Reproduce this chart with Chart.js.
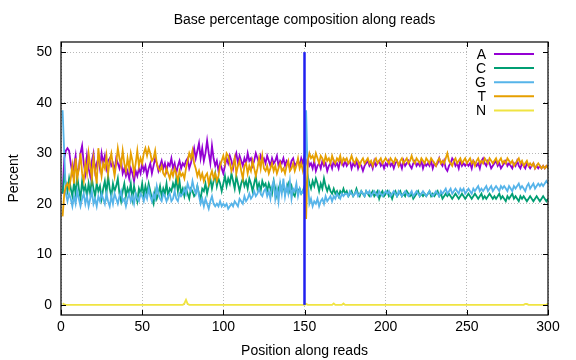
<!DOCTYPE html>
<html>
<head>
<meta charset="utf-8">
<script src="https://cdn.jsdelivr.net/npm/chart.js@4.4.0/dist/chart.umd.min.js"></script>
<style>
html, body { margin: 0; padding: 0; background: #fff; }
canvas { display: block; }
</style>
</head>
<body>
<canvas id="myChart" width="576" height="360"></canvas>
<script>
// ---------- data ----------
const seriesNames = ['A', 'C', 'G', 'T', 'N'];
const seriesColors = ['#9400d3', '#009e73', '#56b4e9', '#e69f00', '#f0e442'];
const positions = Array.from({length: 300}, (_, i) => i + 1);

const baseA = [
  22, 29, 30.5, 31, 30.5, 28, 26, 27.5, 29.5, 25.5, 27, 30, 31.5, 28, 26, 29.5, 27, 25.5, 28.5, 30, 26.5, 28, 29, 27, 30,
  28, 29.5, 27, 28.5, 29, 27.5, 28, 26.5, 29, 28, 27, 28.5, 26, 27, 25.5, 26.5, 25, 27, 26, 24.5, 26.5, 25.5, 27, 26, 28,
  26.5, 27.5, 25.5, 27, 28, 26, 27.5, 29, 28, 26.5, 27.5, 28.5, 27, 28, 26.5, 28, 27.5, 29, 27, 28, 26, 27.5, 28.5, 27, 28,
  27.5, 28.5, 29, 27, 28, 29.5, 31, 29, 30.5, 32, 29, 31, 28.5, 30, 32.5, 30, 28, 31.5, 29, 27.5, 28.5, 26.5, 28, 27, 26,
  27.5, 29, 28, 29.5, 28.5, 27, 29, 30, 28, 29.5, 28.5, 27.5, 29, 28, 30, 28.5, 29, 27.5, 28.5, 30, 29, 28, 29.5, 28.5, 29,
  28, 29.5, 28.5, 27.5, 29, 28, 28.5, 29.5, 27.5, 28.5, 28, 29, 27.5, 28.5, 28, 27, 28.5, 29, 27.5, 28, 28.5, 27.5, 29, 28, 29.5,
  28, 29, 27.5, 28, 27, 28.5, 26.5, 27.5, 28, 27, 28.5, 27.5, 28, 26.5, 27.5, 28, 27, 28.5, 27.5, 28, 27, 28.5, 28, 27.5, 28.5,
  27.5, 28, 28.5, 27, 28, 27.5, 28.5, 27, 28, 27.5, 26.5, 27.5, 28, 28.5, 27.5, 28, 27, 28.5, 27.5, 28, 28.5, 27.5, 28, 27, 28,
  27.5, 28.5, 27.5, 28, 27, 28, 28.5, 27.5, 28, 27, 28.5, 27.5, 28, 28.5, 27.5, 27, 28, 28.5, 27.5, 28, 27.5, 28.5, 27, 28, 27.5,
  28, 27.5, 28.5, 27, 28, 27.5, 28, 29, 28, 27.5, 28.5, 27, 26.5, 27.5, 28, 29, 28.5, 27.5, 28, 27, 28.5, 27.5, 28, 27.5, 28,
  27.5, 28, 27, 28.5, 28, 27.5, 28, 27, 28.5, 29, 28, 27.5, 28.5, 28, 27, 27.5, 28, 28.5, 27.5, 28, 27, 27.5, 28, 28.5, 27.5,
  28, 27.5, 27, 28, 27.5, 28.5, 27.5, 27, 28, 27.5, 27, 28, 27.5, 27, 27.5, 28, 27, 27.5, 27, 27.5, 27, 27.5, 27, 27.5, 27.3
];

const baseC = [
  22, 25.5, 24, 22.5, 25, 23, 21.5, 24, 22, 25.5, 23, 21, 24.5, 22.5, 23.5, 21.5, 24, 22, 25, 23, 21.5, 24, 22.5, 23.5, 21,
  23, 24.5, 22, 25.5, 23, 21.5, 24, 22.5, 23.5, 25, 22, 20.5, 22.5, 24, 21.5, 23, 22, 24, 21, 23.5, 22, 20.5, 23, 22, 24,
  21.5, 23.5, 22, 24, 22.5, 21, 20, 22.5, 21, 22, 23.5, 21.5, 23, 22, 24, 21.5, 23, 22.5, 24, 23, 25, 22.5, 24.5, 22, 23,
  21.5, 23, 22, 21, 23, 22.5, 21.5, 22, 23.5, 22, 21, 23, 22.5, 24, 22, 23.5, 25, 23, 24.5, 26, 23.5, 25, 24, 22.5, 24,
  25.5, 23.5, 25, 24, 26, 24.5, 23, 25.5, 24, 22.5, 24, 25, 23.5, 24.5, 23, 25, 24, 22.5, 24, 25.5, 23, 24, 22.5, 24.5, 23.5,
  24, 22.5, 24, 23, 22, 24.5, 23, 21.5, 23, 24, 22.5, 23.5, 22, 23, 24, 22.5, 23.5, 22, 21.5, 23, 22.5, 23, 22, 22.5, 23.5,
  23, 25.5, 24, 23, 24.5, 23.5, 25, 24, 22.5, 24, 23, 25, 23.5, 22.5, 23.5, 22.5, 22, 23, 22, 22.5, 21.5, 22.5, 22, 23, 22,
  22.5, 21.5, 22, 22.5, 21.5, 22, 23, 22, 21.5, 22.5, 22, 21.5, 22.5, 22, 21.5, 22, 22.5, 21.5, 22, 22.5, 21, 22, 22.5, 21.5, 22,
  22.5, 21.5, 22, 21, 22, 22.5, 21.5, 22, 22.5, 21.5, 22, 21.5, 22.5, 22, 21.5, 22, 21, 21.5, 22, 22.5, 21.5, 22, 21.5, 22, 21.5,
  22, 22.5, 21.5, 22, 21.5, 22, 22.5, 21.5, 22, 21, 21.5, 22, 21.5, 22, 21.5, 21, 21.5, 22, 21.5, 21, 21.5, 22, 21.5, 21, 21.5,
  22, 21.5, 21, 21.5, 22, 21.5, 21, 21.5, 22, 21, 21.5, 21, 21.5, 22, 21.5, 21, 21.5, 21, 21.5, 22, 21, 21.5, 21, 20.5, 21.5,
  21, 21.5, 22, 21, 21.5, 21, 20.5, 21.5, 21, 21.5, 21, 20.5, 21, 21.5, 21, 20.5, 21, 21.5, 21, 20.5, 21, 21.5, 21, 20.5, 21
];

const baseG = [
  38.5, 30, 22, 20.5, 22, 21, 19.5, 21.5, 20, 22.5, 21, 19.5, 21, 22, 20, 21.5, 19.5, 21, 22.5, 20, 21, 19.5, 21.5, 20.5, 22,
  21, 20, 22, 20.5, 19.5, 21.5, 20, 22, 21, 20, 21.5, 22.5, 20.5, 21, 19.5, 21, 22, 20.5, 21.5, 20, 22, 21, 20.5, 22, 21.5,
  20.5, 22, 21, 23, 21.5, 20.5, 22, 21, 23.5, 22, 21, 20.5, 22, 21.5, 20.5, 21.5, 22, 20.5, 21, 22.5, 21, 20.5, 22, 21.5, 22,
  23, 22, 24, 23, 22.5, 24.5, 23, 22, 23.5, 21.5, 20, 21, 19.5, 21, 20, 19, 20.5, 21.5, 20, 19.5, 20, 19.5, 20.5, 19.5, 20,
  19.5, 20, 19, 19.5, 20, 19.5, 20.5, 20, 19.5, 21, 20.5, 20, 21.5, 20.5, 21, 22, 21, 21.5, 22.5, 21.5, 22, 23, 22, 21.5, 22.5,
  23, 21.5, 22.5, 21, 23.5, 24.5, 21, 23, 20.5, 24, 22, 25, 21.5, 23.5, 22, 24.5, 21, 23, 22.5, 24, 21.5, 23, 22, 22.5, 22,
  38.5, 25, 20, 21, 19.5, 20.5, 20, 21, 19.5, 20.5, 21, 20, 21.5, 20.5, 21, 21.5, 20.5, 21.5, 21, 22, 21.5, 21, 22, 21.5, 22,
  22, 21.5, 22.5, 22, 21.5, 22, 22.5, 21.5, 22, 22.5, 22, 21.5, 22.5, 22, 22.5, 21.5, 22, 22.5, 22, 21.5, 22.5, 22, 21.5, 22, 22.5,
  22, 22.5, 21.5, 22, 22.5, 22, 21.5, 22.5, 22, 21.5, 22, 22.5, 22, 21.5, 22, 22.5, 21.5, 22, 22.5, 22, 21.5, 22, 22.5, 22, 21.5,
  22, 22.5, 22, 21.5, 22, 22.5, 22, 21.5, 22.5, 22, 22.5, 23, 22, 22.5, 23, 22, 22.5, 23, 22.5, 22, 23, 22.5, 23, 22, 22.5,
  23, 22.5, 22, 23, 22.5, 23, 23.5, 22.5, 23, 22.5, 23, 23.5, 22.5, 23, 23.5, 22.5, 23, 23.5, 23, 22.5, 23.5, 23, 23.5, 23, 22.5,
  23.5, 23, 22.5, 23.5, 23, 23.5, 24, 23, 23.5, 23, 22.5, 23.5, 24, 23, 23.5, 24, 23, 23.5, 24, 23.5, 24, 23.5, 24, 24.5, 24
];

const baseT = [
  17.5, 22, 23.5, 24, 23, 25, 27.5, 24, 29, 25, 27, 30, 26, 24.5, 28, 26, 30, 27.5, 25, 29, 26.5, 24, 31, 28, 25.5,
  28, 27, 29.5, 26, 28.5, 30, 27.5, 25.5, 28, 31, 29, 27.5, 30.5, 28, 26.5, 29, 27, 30, 28.5, 26, 28, 30.5, 27.5, 29, 28,
  30, 31, 29.5, 31, 30, 28.5, 29, 30.5, 28, 27, 26.5, 27.5, 26, 25.5, 27, 26, 25, 26.5, 25.5, 27, 26, 24.5, 26.5, 25.5, 26,
  25, 27, 28.5, 30, 29, 30.5, 28, 27, 25.5, 26.5, 25, 26, 24.5, 25.5, 26, 24, 25.5, 26.5, 25, 26, 24.5, 25.5, 27.5, 28.5, 29.5,
  28, 30, 29.5, 28, 26.5, 27.5, 29, 26, 27.5, 28.5, 26.5, 25, 27.5, 28, 26, 27.5, 26.5, 28.5, 27, 25.5, 27, 29, 27, 29.5, 27,
  26.5, 27.5, 26, 27, 28, 26.5, 27.5, 26, 27, 28, 26.5, 27, 26, 27.5, 28.5, 26.5, 27, 28, 26.5, 27.5, 29, 27, 28, 26.5, 28,
  17, 28.5, 30, 29, 29.5, 28.5, 30, 29, 28, 29.5, 29, 28, 29.5, 28.5, 29, 28, 29.5, 28.5, 28, 29, 28.5, 29.5, 28, 29, 28.5,
  29, 28, 28.5, 29.5, 28.5, 28, 29, 28.5, 27.5, 28.5, 29, 28, 28.5, 29, 28, 28.5, 27.5, 28.5, 29, 28, 28.5, 29, 28, 28.5, 29,
  28.5, 28, 29, 28.5, 28, 29, 28.5, 27.5, 28.5, 29, 28, 28.5, 29, 28, 28.5, 29.5, 28.5, 28, 29, 28.5, 28, 29, 28.5, 28, 29,
  28.5, 28, 29, 28.5, 28, 27.5, 28.5, 29, 28, 28.5, 28, 29, 30, 28.5, 28, 27.5, 28.5, 29, 28, 28.5, 29, 28, 28.5, 29, 28,
  28.5, 29, 28, 28.5, 27.5, 28.5, 29, 28, 28.5, 28, 29, 28.5, 28, 29, 28.5, 28, 28.5, 29, 28, 28.5, 29, 28, 28.5, 28, 29,
  28.5, 28, 28.5, 27.5, 28, 28.5, 29, 28, 28.5, 27.5, 28, 28.5, 27.5, 28, 27.5, 28, 27, 27.5, 28, 27.5, 27, 27.5, 27, 27.5, 27
];

const baseN = [
  0.3, 0.1, 0, 0, 0, 0, 0, 0, 0, 0, 0, 0, 0, 0, 0, 0, 0, 0, 0, 0, 0, 0, 0, 0, 0,
  0, 0, 0, 0, 0, 0, 0, 0, 0, 0, 0, 0, 0, 0, 0, 0, 0, 0, 0, 0, 0, 0, 0, 0, 0,
  0, 0, 0, 0, 0, 0, 0, 0, 0, 0, 0, 0, 0, 0, 0, 0, 0, 0, 0, 0, 0, 0, 0, 0, 0,
  0.3, 1, 0.2, 0, 0, 0, 0, 0, 0, 0, 0, 0, 0, 0, 0, 0, 0, 0, 0, 0, 0, 0, 0, 0, 0,
  0, 0, 0, 0, 0, 0, 0, 0, 0, 0, 0, 0, 0, 0, 0, 0, 0, 0, 0, 0, 0, 0, 0, 0, 0,
  0, 0, 0, 0, 0, 0, 0, 0, 0, 0, 0, 0, 0, 0, 0, 0, 0, 0, 0, 0, 0, 0, 0, 0, 0,
  0.2, 0, 0, 0, 0, 0, 0, 0, 0, 0, 0, 0, 0, 0, 0, 0, 0, 0.3, 0, 0, 0, 0, 0, 0.3, 0,
  0, 0, 0, 0, 0, 0, 0, 0, 0, 0, 0, 0, 0, 0, 0, 0, 0, 0, 0, 0, 0, 0, 0, 0, 0,
  0, 0, 0, 0, 0, 0, 0, 0, 0, 0, 0, 0, 0, 0, 0, 0, 0, 0, 0, 0, 0, 0, 0, 0, 0,
  0, 0, 0, 0, 0, 0, 0, 0, 0, 0, 0, 0, 0, 0, 0, 0, 0, 0, 0, 0, 0, 0, 0, 0, 0,
  0, 0, 0, 0, 0, 0, 0, 0, 0, 0, 0, 0, 0, 0, 0, 0, 0, 0, 0, 0, 0, 0, 0, 0, 0,
  0, 0, 0, 0, 0, 0, 0, 0, 0, 0, 0.2, 0.2, 0, 0, 0, 0, 0, 0, 0, 0, 0, 0, 0, 0, 0.3
];

// read boundary marker (paired reads joined at 150)
const readBoundary = 150;
const boundaryRange = [0, 50];

const xTicks = [0, 50, 100, 150, 200, 250, 300];
const yTicks = [0, 10, 20, 30, 40, 50];

const FONT = 'Liberation Sans, Arial, sans-serif';
const FS = 14;

// ---------- build datasets ----------
const seriesValues = [baseA, baseC, baseG, baseT, baseN];
const datasets = seriesNames.map((name, i) => ({
  label: name,
  data: seriesValues[i].map((v, j) => ({x: positions[j], y: v})),
  borderColor: seriesColors[i],
  borderWidth: 1.8,
  order: 5 - i
}));
datasets.push({
  label: 'boundary',
  data: boundaryRange.map(v => ({x: readBoundary, y: v})),
  borderColor: '#2020f0',
  borderWidth: 2.5,
  order: 0
});

// frame, inward ticks and key like gnuplot
const gnuplotLook = {
  id: 'gnuplotLook',
  afterDraw(chart) {
    const ctx = chart.ctx;
    const a = chart.chartArea;
    const xs = chart.scales.x, ys = chart.scales.y;
    ctx.save();

    // key
    ctx.fillStyle = '#fff';
    ctx.fillRect(a.right - 81, a.top + 4, 76, 72);
    ctx.font = FS + 'px ' + FONT;
    ctx.textAlign = 'right';
    ctx.textBaseline = 'middle';
    seriesNames.forEach((name, i) => {
      const y = a.top + 12 + i * 14.1;
      ctx.fillStyle = '#000';
      ctx.fillText(name, a.right - 62, y + 1);
      ctx.strokeStyle = seriesColors[i];
      ctx.lineWidth = 2;
      ctx.beginPath();
      ctx.moveTo(a.right - 54, y);
      ctx.lineTo(a.right - 14, y);
      ctx.stroke();
    });

    // frame
    ctx.strokeStyle = '#000';
    ctx.lineWidth = 1.2;
    ctx.strokeRect(a.left, a.top, a.right - a.left, a.bottom - a.top);

    // ticks pointing inward
    ctx.lineWidth = 1;
    ctx.beginPath();
    xTicks.forEach(v => {
      const px = Math.round(xs.getPixelForValue(v)) + 0.5;
      ctx.moveTo(px, a.bottom); ctx.lineTo(px, a.bottom - 5);
      ctx.moveTo(px, a.top); ctx.lineTo(px, a.top + 5);
    });
    yTicks.forEach(v => {
      const py = Math.round(ys.getPixelForValue(v)) + 0.5;
      ctx.moveTo(a.left, py); ctx.lineTo(a.left + 5, py);
      ctx.moveTo(a.right, py); ctx.lineTo(a.right - 5, py);
    });
    ctx.stroke();
    ctx.restore();
  }
};

new Chart(document.getElementById('myChart'), {
  type: 'line',
  data: { datasets: datasets },
  plugins: [gnuplotLook],
  options: {
    responsive: false,
    animation: false,
    devicePixelRatio: 1,
    layout: { padding: { top: 0, right: 28, left: 0, bottom: 0 } },
    elements: {
      point: { radius: 0 },
      line: { tension: 0, borderCapStyle: 'butt', borderJoinStyle: 'miter' }
    },
    plugins: {
      legend: { display: false },
      tooltip: { enabled: false },
      title: {
        display: true,
        fullSize: false,
        text: 'Base percentage composition along reads',
        color: '#000',
        font: { family: FONT, size: FS, weight: 'normal' },
        padding: { top: 12, bottom: 13.2 }
      }
    },
    scales: {
      x: {
        type: 'linear',
        min: 0,
        max: 300,
        afterBuildTicks: s => { s.ticks = xTicks.map(v => ({ value: v })); },
        afterFit: s => { s.height = 45; },
        grid: { color: '#b8b8b8', lineWidth: 1, drawTicks: false },
        border: { display: false, dash: [1, 2] },
        ticks: { color: '#000', font: { family: FONT, size: FS }, padding: 4, maxRotation: 0, autoSkip: false },
        title: {
          display: true,
          text: 'Position along reads',
          color: '#000',
          font: { family: FONT, size: FS },
          padding: { top: 1.5, bottom: 0 }
        }
      },
      y: {
        min: -2,
        max: 52,
        afterBuildTicks: s => { s.ticks = yTicks.map(v => ({ value: v })); },
        afterFit: s => { s.width = 61; },
        grid: { color: '#b8b8b8', lineWidth: 1, drawTicks: false },
        border: { display: false, dash: [1, 2] },
        ticks: { color: '#000', font: { family: FONT, size: FS }, padding: 9 },
        title: {
          display: true,
          text: 'Percent',
          color: '#000',
          font: { family: FONT, size: FS },
          padding: { top: 5.6, bottom: 0 }
        }
      }
    }
  }
});
</script>
</body>
</html>
